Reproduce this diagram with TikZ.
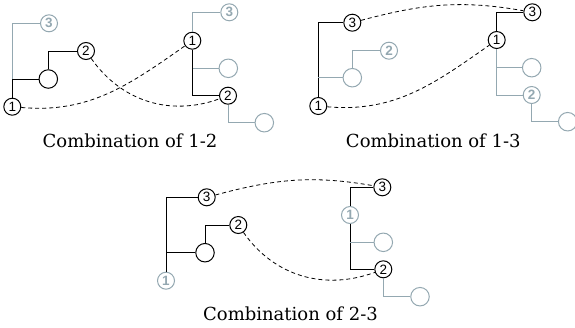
\documentclass[tikz,border=0pt]{standalone}
\usepackage{fontspec}
\setmainfont{DejaVu Serif}
\newfontfamily\numfont{Liberation Sans}
\definecolor{treegray}{RGB}{148,168,177}
\begin{document}
\begin{tikzpicture}[x=1pt,y=1pt,
  nd/.style={circle,draw=black,line width=1pt,minimum size=17pt,inner sep=0pt,font=\numfont\fontsize{13.5}{13.5}\selectfont},
  gnd/.style={nd,draw=treegray,text=treegray,font=\numfont\bfseries\fontsize{13.5}{13.5}\selectfont},
  ec/.style={circle,draw=black,line width=1pt,minimum size=18.5pt,inner sep=0pt},
  gec/.style={ec,draw=treegray},
  bl/.style={draw=black,line width=1pt},
  gl/.style={draw=treegray,line width=1pt},
  link/.style={draw=black,line width=0.8pt,dash pattern=on 4pt off 3pt},
  captext/.style={anchor=base,font=\fontsize{18}{20}\selectfont}]
\useasboundingbox (0,0) rectangle (575,-327);

% ---- Combination of 1-2 ----
\node[nd]  (a1) at (12.3,-106.7) {1};
\node[ec]  (ae) at (48.3,-79) {};
\node[nd]  (a2) at (86,-51) {2};
\node[gnd] (a3) at (49,-23.3) {3};
\coordinate (aj) at (12.3,-79);
\draw[bl] (a1) -- (aj) -- (ae);
\draw[gl] (aj) |- (a3);
\draw[bl] (ae) |- (a2);

\node[nd]  (b1) at (192.3,-40.7) {1};
\node[gnd] (b3) at (229.3,-12.3) {3};
\node[gec] (be) at (228.3,-68.3) {};
\node[nd]  (b2) at (228,-95.7) {2};
\node[gec] (bf) at (264.3,-122.7) {};
\coordinate (bj) at (192.3,-68.3);
\draw[gl] (b1) |- (b3);
\draw[gl] (bj) -- (be);
\draw[bl] (b1) |- (b2);
\draw[gl] (b2) |- (bf);

\draw[link] (a1) to[out=-5,in=215] (b1);
\draw[link] (a2) to[out=-55,in=200] (b2);
\node[captext] (capa) at (130,-147) {Combination of 1-2};

% ---- Combination of 1-3 ----
\node[nd]  (c1) at (318.3,-106) {1};
\node[nd]  (c3) at (352.3,-22.7) {3};
\node[gec] (ce) at (352.3,-77.7) {};
\node[gnd] (c2) at (389,-50.7) {2};
\coordinate (cj) at (318.3,-77.7);
\draw[bl] (c1) |- (c3);
\draw[gl] (cj) -- (ce);
\draw[gl] (ce) |- (c2);

\node[nd]  (d1) at (496.7,-40) {1};
\node[nd]  (d3) at (532.3,-12.3) {3};
\node[gec] (de) at (531.7,-67.7) {};
\node[gnd] (d2) at (531.7,-95) {2};
\node[gec] (df) at (567.7,-121.7) {};
\coordinate (dj) at (496.7,-67.7);
\draw[bl] (d1) |- (d3);
\draw[gl] (d1) |- (d2);
\draw[gl] (dj) -- (de);
\draw[gl] (d2) |- (df);

\draw[link] (c3) to[out=15,in=170] (d3);
\draw[link] (c1) to[out=-5,in=215] (d1);
\node[captext] (capb) at (433.3,-147) {Combination of 1-3};

% ---- Combination of 2-3 ----
\node[gnd] (e1) at (166,-280.7) {1};
\node[nd]  (e3) at (206.7,-197.3) {3};
\node[ec]  (ee) at (205,-252.7) {};
\node[nd]  (e2) at (238.3,-225) {2};
\coordinate (ej) at (166,-252.7);
\draw[bl] (e1) |- (e3);
\draw[bl] (ej) -- (ee);
\draw[bl] (ee) |- (e2);

\node[gnd] (f1) at (350,-215) {1};
\node[nd]  (f3) at (382.3,-187.3) {3};
\node[gec] (fe) at (383.3,-242.3) {};
\node[nd]  (f2) at (383.3,-269.3) {2};
\node[gec] (ff) at (420,-296.7) {};
\coordinate (fj) at (350,-242.3);
\draw[bl] (f1) |- (f3);
\draw[bl] (f1) |- (f2);
\draw[gl] (fj) -- (fe);
\draw[gl] (f2) |- (ff);

\draw[link] (e3) to[out=15,in=170] (f3);
\draw[link] (e2) to[out=-55,in=200] (f2);
\node[captext] (capc) at (290.5,-320) {Combination of 2-3};
\end{tikzpicture}
\end{document}
